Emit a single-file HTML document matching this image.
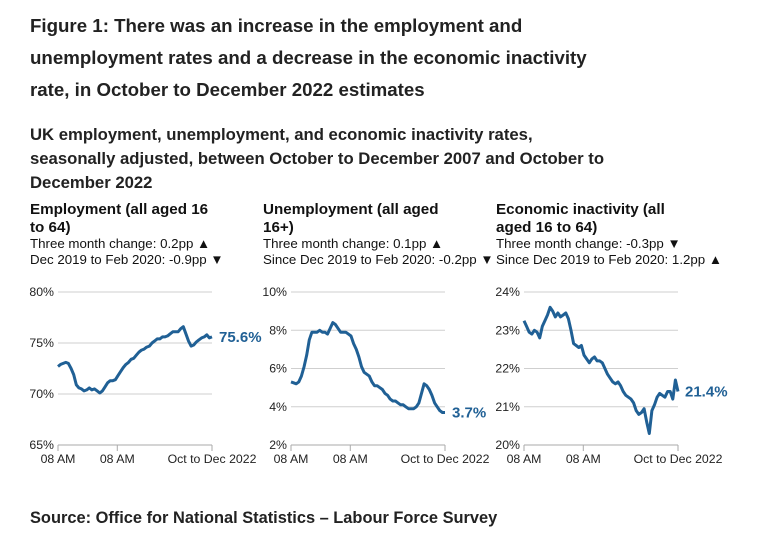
<!DOCTYPE html>
<html><head><meta charset="utf-8"><style>
body{margin:0;background:#fff;}
svg{display:block;font-family:"Liberation Sans",sans-serif;}
.t1{font-size:18.7px;font-weight:bold;fill:#222;}
.t2{font-size:16.7px;font-weight:bold;fill:#222;}
.ph{font-size:15.2px;font-weight:bold;fill:#111;}
.pl{font-size:13.3px;fill:#111;}
.ax{font-size:12.3px;fill:#222;}
.end{font-size:15px;font-weight:bold;fill:#206095;}
.src{font-size:16.4px;font-weight:bold;fill:#222;}
</style></head><body>
<svg id="chart" width="757" height="537" viewBox="0 0 757 537">
<text class="t1" x="30" y="32">Figure 1: There was an increase in the employment and</text>
<text class="t1" x="30" y="64">unemployment rates and a decrease in the economic inactivity</text>
<text class="t1" x="30" y="96">rate, in October to December 2022 estimates</text>
<text class="t2" x="30" y="140">UK employment, unemployment, and economic inactivity rates,</text>
<text class="t2" x="30" y="164">seasonally adjusted, between October to December 2007 and October to</text>
<text class="t2" x="30" y="188">December 2022</text>

<text class="ph" x="30" y="214">Employment (all aged 16</text>
<text class="ph" x="30" y="232">to 64)</text>
<text class="pl" x="30" y="248">Three month change: 0.2pp ▲</text>
<text class="pl" x="30" y="264">Dec 2019 to Feb 2020: -0.9pp ▼</text>

<text class="ph" x="263" y="214">Unemployment (all aged</text>
<text class="ph" x="263" y="232">16+)</text>
<text class="pl" x="263" y="248">Three month change: 0.1pp ▲</text>
<text class="pl" x="263" y="264">Since Dec 2019 to Feb 2020: -0.2pp ▼</text>

<text class="ph" x="496" y="214">Economic inactivity (all</text>
<text class="ph" x="496" y="232">aged 16 to 64)</text>
<text class="pl" x="496" y="248">Three month change: -0.3pp ▼</text>
<text class="pl" x="496" y="264">Since Dec 2019 to Feb 2020: 1.2pp ▲</text>

<text class="src" x="30" y="523">Source: Office for National Statistics – Labour Force Survey</text>
<g id="panels"></g>
</svg>
<script>
const xTickLabels = ["08 AM", "08 AM", "Oct to Dec 2022"];
const xTickPos = [0, 0.385, 1];
const empTicks = [65, 70, 75, 80];
const unempTicks = [2, 4, 6, 8, 10];
const inactTicks = [20, 21, 22, 23, 24];
const empValues = [72.7,72.9,73.0,73.1,73.0,72.5,71.9,70.9,70.6,70.5,70.3,70.4,70.6,70.4,70.5,70.3,70.1,70.3,70.7,71.1,71.3,71.3,71.4,71.8,72.2,72.6,72.9,73.1,73.4,73.5,73.8,74.1,74.3,74.4,74.6,74.7,75.0,75.2,75.4,75.4,75.6,75.6,75.7,75.9,76.1,76.1,76.1,76.4,76.6,75.9,75.2,74.7,74.8,75.1,75.3,75.5,75.6,75.8,75.5,75.6];
const unempValues = [5.3,5.25,5.2,5.3,5.6,6.1,6.7,7.5,7.9,7.9,7.9,8.0,7.9,7.9,7.8,8.1,8.4,8.3,8.1,7.9,7.9,7.9,7.8,7.7,7.3,7.0,6.6,6.1,5.8,5.7,5.6,5.3,5.1,5.1,5.0,4.9,4.7,4.6,4.4,4.3,4.3,4.2,4.1,4.1,4.0,3.9,3.9,3.9,4.0,4.2,4.7,5.2,5.1,4.9,4.6,4.2,4.0,3.8,3.7,3.7];
const inactValues = [23.25,23.1,22.95,22.9,23.0,22.95,22.8,23.1,23.25,23.4,23.6,23.5,23.35,23.45,23.35,23.4,23.45,23.3,23.0,22.65,22.6,22.55,22.6,22.35,22.25,22.15,22.25,22.3,22.2,22.2,22.15,22.0,21.85,21.75,21.65,21.6,21.65,21.55,21.4,21.3,21.25,21.2,21.1,20.9,20.8,20.85,20.95,20.6,20.3,20.9,21.05,21.25,21.35,21.3,21.25,21.4,21.4,21.2,21.7,21.4];
const endLabels = ["75.6%", "3.7%", "21.4%"];

const NS = "http://www.w3.org/2000/svg";
const root = document.getElementById("panels");
function mk(tag, attrs, parent) {
  const e = document.createElementNS(NS, tag);
  for (const k in attrs) e.setAttribute(k, attrs[k]);
  parent.appendChild(e);
  return e;
}
function panel(name, x0, ticks, values, endLabel) {
  const x1 = x0 + 154, yTop = 292, yBot = 445;
  const min = ticks[0], max = ticks[ticks.length - 1];
  const y = v => yBot - (v - min) / (max - min) * (yBot - yTop);
  const x = i => x0 + i / (values.length - 1) * (x1 - x0);
  const g = mk("g", {}, root);
  
  
  ticks.forEach(t => {
    const l = mk("line", {x1: x0, x2: x1, y1: y(t), y2: y(t), stroke: t === min ? "#aaa" : "#cfcfcf", "stroke-width": 1}, g);
    
    
    const tx = mk("text", {x: x0 - 4, y: y(t) + 4, "text-anchor": "end", class: "ax"}, g);
    tx.textContent = t + "%";
    
    
  });
  xTickLabels.forEach((lab, k) => {
    const px = x0 + xTickPos[k] * (x1 - x0);
    const tk = mk("line", {x1: px, x2: px, y1: yBot, y2: yBot + 6, stroke: "#aaa"}, g);
    
    
    const tx = mk("text", {x: px, y: yBot + 18, "text-anchor": "middle", class: "ax"}, g);
    tx.textContent = lab;
    
    
  });
  const d = values.map((v, i) => (i ? "L" : "M") + x(i).toFixed(1) + "," + y(v).toFixed(1)).join("");
  const p = mk("path", {d: d, fill: "none", stroke: "#206095", "stroke-width": 3, "stroke-linejoin": "round"}, g);
  
  
  const el = mk("text", {x: x1 + 7, y: y(values[values.length - 1]) + 5, class: "end"}, g);
  el.textContent = endLabel;
  
  
}
panel("employment", 58, empTicks, empValues, endLabels[0]);
panel("unemployment", 291, unempTicks, unempValues, endLabels[1]);
panel("inactivity", 524, inactTicks, inactValues, endLabels[2]);
</script>
</body></html>
